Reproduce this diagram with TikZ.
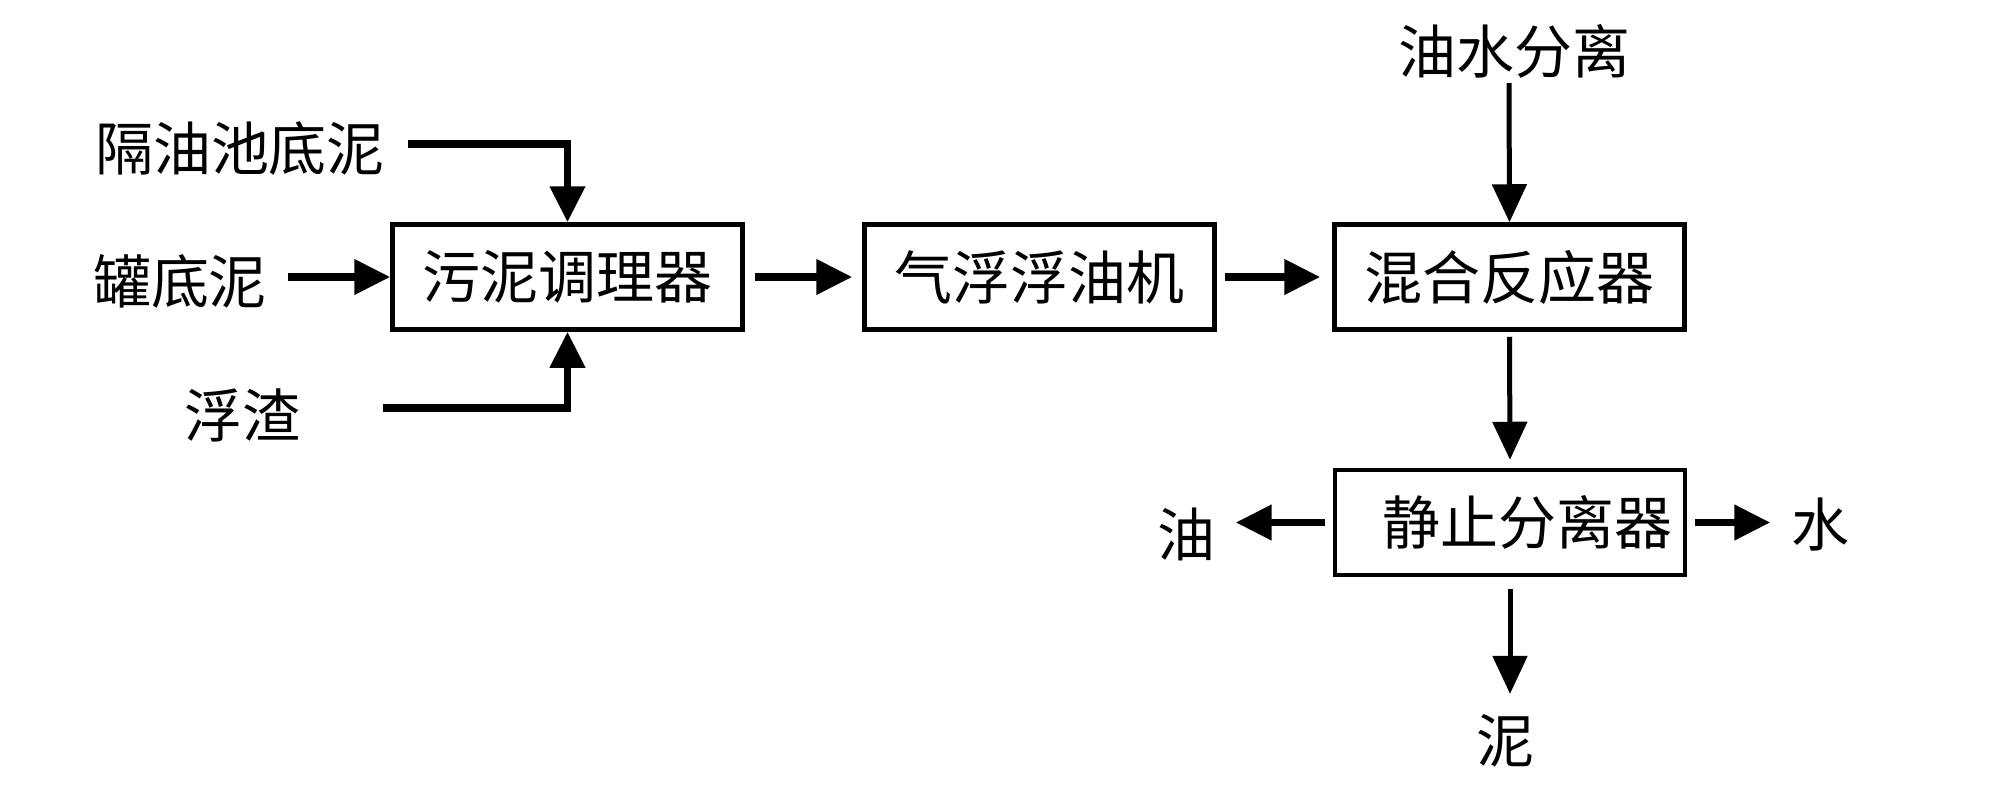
\documentclass[tikz,border=0pt]{standalone}
\usepackage{fontspec}
\setmainfont{Noto Sans CJK SC}
\usetikzlibrary{arrows.meta}
\begin{document}
\begin{tikzpicture}[
  font=\fontsize{16.5}{20}\selectfont,
  box/.style={draw=black, line width=0.045cm, minimum width=3.5cm, minimum height=1.05cm, inner sep=0pt},
  lbl/.style={inner sep=0.2cm},
  fat/.style={line width=0.075cm, -{Triangle[length=0.36cm,width=0.34cm]}},
  thin/.style={line width=0.05cm, -{Triangle[length=0.38cm,width=0.34cm]}}
]
\useasboundingbox[fill=white] (0,0) rectangle (20,-8.08);

% boxes
\node[box] (b1) at (5.675,-2.77) {污泥调理器};
\node[box] (b2) at (10.395,-2.77) {气浮浮油机};
\node[box] (b3) at (15.095,-2.77) {混合反应器};
\node[box] (b4) at (15.10,-5.225) {\hspace{0.35cm}静止分离器};

% labels
\node[lbl] (ge) at (2.40,-1.48) {隔油池底泥};
\node[lbl] (gd) at (1.80,-2.81) {罐底泥};
\node[lbl] (fz) at (2.42,-4.15) {浮渣};
\node[lbl] (ys) at (15.14,-0.51) {油水分离};
\node[lbl] (you) at (11.86,-5.34) {油};
\node[lbl] (shui) at (18.20,-5.25) {水};
\node[lbl] (ni) at (15.05,-7.41) {泥};

\coordinate (s1) at (4.08,-1.44);
\coordinate (s3) at (3.83,-4.08);
\coordinate (s4) at (15.09,-0.83);

% connectors
\draw[fat] (s1) -| (b1.north);
\draw[fat] (gd.east |- b1.west) -- (b1.west);
\draw[fat] (s3) -| (b1.south);
\draw[fat, shorten <=0.1cm, shorten >=0.1cm] (b1.east) -- (b2.west);
\draw[fat, shorten <=0.08cm, shorten >=0.12cm] (b2.east) -- (b3.west);
\draw[thin] (s4) -- (b3.north);
\draw[thin, shorten <=0.05cm, shorten >=0.08cm] (b3.south) -- (b4.north);
\draw[fat, shorten <=0.08cm] (b4.west) -- (you.east |- b4.west);
\draw[fat, shorten <=0.08cm] (b4.east) -- (shui.west |- b4.east);
\draw[thin, shorten <=0.12cm] (b4.south) -- (b4.south |- ni.north);
\end{tikzpicture}
\end{document}
